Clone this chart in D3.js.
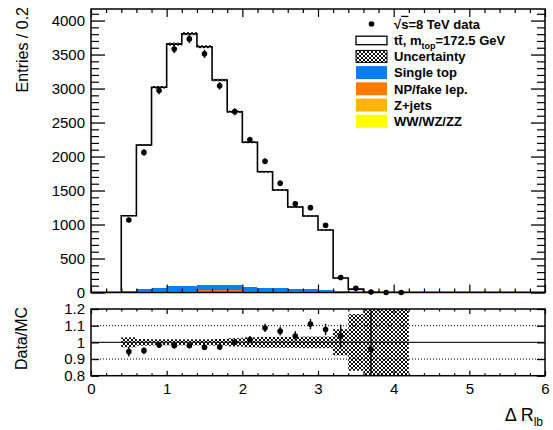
<!DOCTYPE html>
<html><head><meta charset="utf-8">
<script src="https://cdn.jsdelivr.net/npm/d3@7"></script>
<style>
html,body{margin:0;padding:0;background:#fff;}
text{font-family:"Liberation Sans",Arial,Helvetica,sans-serif;}
</style></head>
<body><svg id="c" width="553" height="430"></svg>
<script>
// ---- data (bins of width 0.2 starting at 0.4) ----
const binLow = [0.4,0.6,0.8,1.0,1.2,1.4,1.6,1.8,2.0,2.2,2.4,2.6,2.8,3.0,3.2,3.4,3.6,3.8,4.0];
const binWidth = 0.2;
const mcTotal   = [1129,2169,3018,3654,3806,3615,3125,2659,2209,1777,1507,1257,1125,919,213,50,7.3,0.6,0.3];
const singleTop = [12,34,45,62,62,80,80,75,60,42,42,34,32,28,10,3,0.5,0,0];
const npFake    = [4,7,10,20,20,24,24,22,18,12,12,10,9,8,3,1,0.2,0,0];
const zJets     = [2,3,4,6,6,7,7,6,5,4,4,3,3,3,1,0.5,0.1,0,0];
const diboson   = [1,2,2,3,3,3,3,3,2,2,2,2,1,1,1,0,0,0,0];
const dataVals  = [1066,2061,2970,3580,3730,3510,3040,2660,2245,1930,1608,1305,1248,990,221,61,7,0,0];
const mainUnc   = [0.006,0.006,0.006,0.006,0.006,0.006,0.006,0.006,0.006,0.007,0.007,0.007,0.007,0.008,0.02,0.05,0.3,0.5,0.5];
const ratioUnc  = [0.03,0.02,0.018,0.018,0.018,0.018,0.02,0.025,0.03,0.033,0.033,0.033,0.035,0.035,0.078,0.17,1,1,1];
const yMainTicks = [0,500,1000,1500,2000,2500,3000,3500,4000];
const yRatioTicks = [0.8,0.9,1.0,1.1,1.2];
const xTicks = [0,1,2,3,4,5,6];
const legendLabels = ["data","ttbar","Uncertainty","Single top","NP/fake lep.","Z+jets","WW/WZ/ZZ"];
const colors = {single:"#0a7ef5", np:"#ff7a00", z:"#ffb400", ww:"#ffff00"};

const ttbar = mcTotal.map((t,i)=> t - singleTop[i]-npFake[i]-zJets[i]-diboson[i]);

const svg = d3.select("#c");
const L=91, R=545, mainTop=9, mainBot=292.5, ratTop=309, ratBot=375.7;
const x = d3.scaleLinear().domain([0,6]).range([L,R]);
const y = d3.scaleLinear().domain([0,4170]).range([mainBot,mainTop]);
const yr = d3.scaleLinear().domain([0.8,1.2]).range([ratBot,ratTop]);

// hatch pattern
const defs = svg.append("defs");
const pat = defs.append("pattern").attr("id","hatch").attr("patternUnits","userSpaceOnUse")
  .attr("width",4).attr("height",4);
pat.append("path").attr("d","M-1,-1 L5,5 M5,-1 L-1,5").attr("stroke","#000").attr("stroke-width",0.95);
defs.append("clipPath").attr("id","clipMain").append("rect").attr("x",L).attr("y",mainTop).attr("width",R-L).attr("height",mainBot-mainTop);
defs.append("clipPath").attr("id","clipRat").append("rect").attr("x",L).attr("y",ratTop).attr("width",R-L).attr("height",ratBot-ratTop);

// ---- main panel ----
const gMain = svg.append("g").attr("clip-path","url(#clipMain)");
const layers = [
  {vals:diboson, color:colors.ww},
  {vals:zJets, color:colors.z},
  {vals:npFake, color:colors.np},
  {vals:singleTop, color:colors.single},
  {vals:ttbar, color:"#ffffff"}
];
const cum = binLow.map(()=>0);
layers.forEach(layer=>{
  binLow.forEach((b,i)=>{
    const lo = cum[i], hi = cum[i]+layer.vals[i];
    cum[i] = hi;
    if (layer.vals[i] <= 0) return;
    gMain.append("rect").attr("x",x(b)).attr("width",x(b+binWidth)-x(b))
      .attr("y",y(hi)).attr("height",Math.max(0,y(lo)-y(hi)))
      .attr("fill",layer.color).attr("shape-rendering","crispEdges");
  });
});
// outline
const pts = [[binLow[0],0]];
binLow.forEach((b,i)=>{ pts.push([b,mcTotal[i]]); pts.push([b+binWidth,mcTotal[i]]); });
pts.push([binLow[binLow.length-1]+binWidth,0]);
gMain.append("path").attr("d",d3.line().x(d=>x(d[0])).y(d=>y(d[1]))(pts))
  .attr("fill","none").attr("stroke","#000").attr("stroke-width",1.6);
// uncertainty hatch main
binLow.forEach((b,i)=>{
  const u = mcTotal[i]*mainUnc[i];
  gMain.append("rect").attr("x",x(b)).attr("width",x(b+binWidth)-x(b))
    .attr("y",y(mcTotal[i]+u)).attr("height",Math.max(0.8,y(mcTotal[i]-u)-y(mcTotal[i]+u)))
    .attr("fill","url(#hatch)");
});
// bottom olive line
svg.append("line").attr("x1",L).attr("x2",R).attr("y1",mainBot-0.5).attr("y2",mainBot-0.5)
  .attr("stroke","#9a8a00").attr("stroke-width",1.5);
// data points
const gData = svg.append("g");
binLow.forEach((b,i)=>{
  const cx = x(b+binWidth/2), v=dataVals[i], e=Math.sqrt(v);
  if (e>0) gData.append("line").attr("x1",cx).attr("x2",cx).attr("y1",y(v-e)).attr("y2",y(v+e))
    .attr("stroke","#000").attr("stroke-width",1.4);
  gData.append("circle").attr("cx",cx).attr("cy",y(v)).attr("r",2.8).attr("fill","#000");
});

// axes
function axesFor(scaleY, top, bot, yMajor, yMinor, yMajLen, yMinLen, xMajLen, xMinLen, labelsY){
  const g = svg.append("g");
  g.append("rect").attr("x",L).attr("y",top).attr("width",R-L).attr("height",bot-top)
    .attr("fill","none").attr("stroke","#000").attr("stroke-width",1.5);
  const ay = g.append("g").attr("transform",`translate(${L},0)`)
    .call(d3.axisLeft(scaleY).tickValues(yMajor).tickSizeInner(-yMajLen).tickSizeOuter(0).tickPadding(6)
      .tickFormat(labelsY));
  ay.select(".domain").remove();
  ay.selectAll("text").attr("font-size",15).attr("fill","#000");
  ay.selectAll("line").attr("stroke-width",1.3);
  if (yMinor.length){
    const am = g.append("g").attr("transform",`translate(${L},0)`)
      .call(d3.axisLeft(scaleY).tickValues(yMinor).tickSizeInner(-yMinLen).tickSizeOuter(0).tickFormat(""));
    am.select(".domain").remove(); am.selectAll("line").attr("stroke-width",1.2);
    const amr = g.append("g").attr("transform",`translate(${R},0)`)
      .call(d3.axisRight(scaleY).tickValues(yMinor).tickSizeInner(-yMinLen).tickSizeOuter(0).tickFormat(""));
    amr.select(".domain").remove(); amr.selectAll("line").attr("stroke-width",1.2);
  }
  const ar = g.append("g").attr("transform",`translate(${R},0)`)
    .call(d3.axisRight(scaleY).tickValues(yMajor).tickSizeInner(-yMajLen).tickSizeOuter(0).tickFormat(""));
  ar.select(".domain").remove(); ar.selectAll("line").attr("stroke-width",1.3);
  const xMinor = d3.range(0,31).map(k=>k*0.2).filter(v=>Math.abs(v-Math.round(v))>1e-6);
  [[bot,d3.axisBottom],[top,d3.axisTop]].forEach(([yy,ax])=>{
    const a1 = g.append("g").attr("transform",`translate(0,${yy})`)
      .call(ax(x).tickValues(xTicks).tickSizeInner(-xMajLen).tickSizeOuter(0).tickFormat(""));
    a1.select(".domain").remove(); a1.selectAll("line").attr("stroke-width",1.2);
    const a2 = g.append("g").attr("transform",`translate(0,${yy})`)
      .call(ax(x).tickValues(xMinor).tickSizeInner(-xMinLen).tickSizeOuter(0).tickFormat(""));
    a2.select(".domain").remove(); a2.selectAll("line").attr("stroke-width",1.2);
  });
  return g;
}
const yMainMinor = d3.range(0,42).map(k=>k*100).filter(v=>v%500!==0 && v<=4170);
axesFor(y, mainTop, mainBot, yMainTicks, yMainMinor, 14, 8, 8, 4, d3.format("d"));

// ---- ratio panel ----
const gR = svg.append("g").attr("clip-path","url(#clipRat)");
[1.1,0.9].forEach(v=>{
  gR.append("line").attr("x1",L).attr("x2",R).attr("y1",yr(v)).attr("y2",yr(v))
    .attr("stroke","#000").attr("stroke-width",1).attr("stroke-dasharray","1,2");
});
binLow.forEach((b,i)=>{
  const u = ratioUnc[i];
  gR.append("rect").attr("x",x(b)).attr("width",x(b+binWidth)-x(b))
    .attr("y",yr(1+u)).attr("height",yr(1-u)-yr(1+u)).attr("fill","url(#hatch)");
});
gR.append("line").attr("x1",L).attr("x2",R).attr("y1",yr(1)).attr("y2",yr(1))
  .attr("stroke","#222").attr("stroke-width",1.2);
binLow.forEach((b,i)=>{
  const r = dataVals[i]/mcTotal[i];
  if (r<0.8 || r>1.2) return;
  const e = Math.sqrt(dataVals[i])/mcTotal[i];
  const cx = x(b+binWidth/2);
  gR.append("line").attr("x1",cx).attr("x2",cx).attr("y1",yr(r-e)).attr("y2",yr(r+e))
    .attr("stroke","#000").attr("stroke-width",1.4);
  gR.append("circle").attr("cx",cx).attr("cy",yr(r)).attr("r",2.8).attr("fill","#000");
});
axesFor(yr, ratTop, ratBot, yRatioTicks, [], 8, 0, 5, 2.5, d=>d3.format("")(+d.toFixed(1)));
const axl = svg.append("g").attr("transform",`translate(0,${ratBot})`)
  .call(d3.axisBottom(x).tickValues(xTicks).tickSize(0).tickPadding(7.7).tickFormat(d3.format("d")));
axl.select(".domain").remove();
axl.selectAll("text").attr("font-size",15).attr("fill","#000");

// ---- titles ----
svg.append("text").attr("transform","translate(28,7) rotate(-90)").attr("text-anchor","end")
  .attr("font-size",16).text("Entries / 0.2");
svg.append("text").attr("transform","translate(27,338.5) rotate(-90)").attr("text-anchor","middle")
  .attr("font-size",16).text("Data/MC");
const xt = svg.append("text").attr("x",543).attr("y",421).attr("text-anchor","end").attr("font-size",18);
xt.append("tspan").text("Δ R");
xt.append("tspan").attr("font-size",12).attr("dy",5).text("lb");

// ---- legend ----
const lg = svg.append("g");
const lx0=356, lx1=387, tx=394, ly0=24, dy=16.2;
legendLabels.forEach((lab,i)=>{
  const cy = ly0 + i*dy;
  if (i===0){
    lg.append("circle").attr("cx",(lx0+lx1)/2).attr("cy",cy).attr("r",2.8).attr("fill","#000");
  } else if (i===1){
    lg.append("rect").attr("x",lx0).attr("y",cy-4).attr("width",lx1-lx0).attr("height",8.5)
      .attr("fill","#fff").attr("stroke","#000").attr("stroke-width",1.3);
  } else if (i===2){
    lg.append("rect").attr("x",lx0).attr("y",cy-6).attr("width",lx1-lx0).attr("height",12)
      .attr("fill","url(#hatch)").attr("stroke","#000").attr("stroke-width",1);
  } else {
    const col = [colors.single,colors.np,colors.z,colors.ww][i-3];
    lg.append("rect").attr("x",lx0).attr("y",cy-6.5).attr("width",lx1-lx0).attr("height",13).attr("fill",col);
  }
  const t = lg.append("text").attr("x",tx).attr("y",cy+4.8).attr("font-size",13).attr("font-weight","bold");
  if (i===0){
    t.append("tspan").text("√");
    t.append("tspan").attr("text-decoration","overline").text("s");
    t.append("tspan").text("=8 TeV data");
  } else if (i===1){
    t.append("tspan").text("tt\u0304, m");
    t.append("tspan").attr("font-size",9).attr("dy",3.5).text("top");
    t.append("tspan").attr("dy",-3.5).text("=172.5 GeV");
  } else {
    t.text(lab);
  }
});
</script>
</body></html>
